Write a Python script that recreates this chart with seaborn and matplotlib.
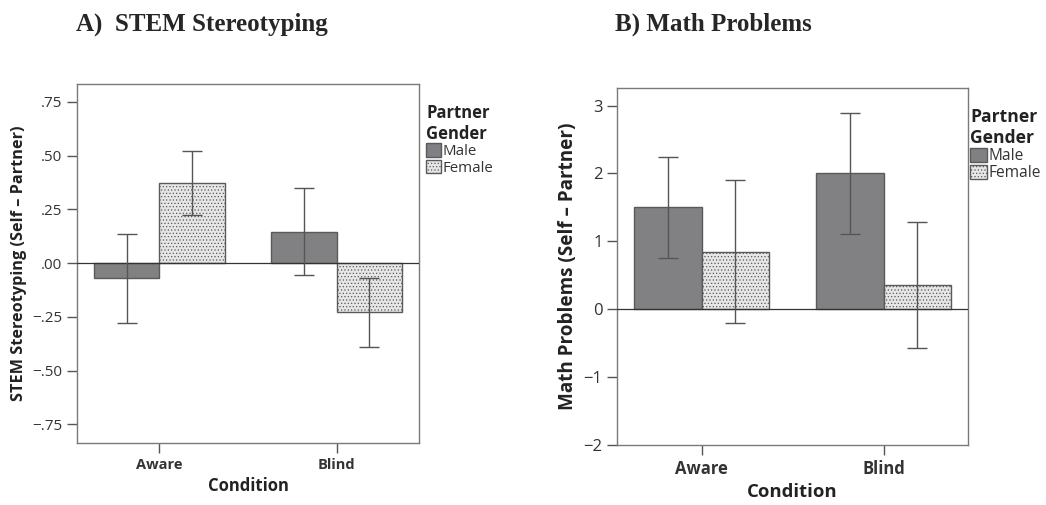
import pandas as pd
import numpy as np
import matplotlib
matplotlib.use('Agg')
import matplotlib.pyplot as plt
import seaborn as sns
from matplotlib.patches import Patch

# データ
conditions = ['Aware', 'Blind']
genders = ['Male', 'Female']

stem_mean = {'Male': [-0.07, 0.146], 'Female': [0.375, -0.228]}
stem_low = {'Male': [-0.276, -0.054], 'Female': [0.226, -0.388]}
stem_high = {'Male': [0.136, 0.349], 'Female': [0.524, -0.068]}

math_mean = {'Male': [1.51, 2.0], 'Female': [0.845, 0.358]}
math_low = {'Male': [0.76, 1.115], 'Female': [-0.206, -0.565]}
math_high = {'Male': [2.25, 2.89], 'Female': [1.90, 1.29]}

stem_ticks = [0.75, 0.5, 0.25, 0.0, -0.25, -0.5, -0.75]
stem_ticklabels = ['.75', '.50', '.25', '.00', '\u2212.25', '\u2212.50', '\u2212.75']
math_ticks = [3, 2, 1, 0, -1, -2]
math_ticklabels = ['3', '2', '1', '0', '\u22121', '\u22122']


def make_df(mean, low, high):
    rows = []
    for g in genders:
        for i, c in enumerate(conditions):
            rows.append({'Condition': c, 'Gender': g, 'value': mean[g][i],
                         'low': low[g][i], 'high': high[g][i]})
    return pd.DataFrame(rows)


sns.set_style('white')
plt.rcParams['font.family'] = ['Open Sans', 'DejaVu Sans']
plt.rcParams['hatch.linewidth'] = 0.5

fig = plt.figure(figsize=(10.46, 5.05), dpi=100)
ax1 = fig.add_axes([0.0736, 0.1228, 0.327, 0.711])
ax2 = fig.add_axes([0.590, 0.1188, 0.3356, 0.707])

male_col = '#808084'
female_col = '#e6e6e6'
edge_col = '#5a5a5a'


def draw(ax, df, ylim, ticks, ticklabels, ylabel, s):
    sns.barplot(data=df, x='Condition', y='value', hue='Gender',
                order=conditions, hue_order=genders,
                palette={'Male': male_col, 'Female': female_col},
                errorbar=None, width=0.74, ax=ax, legend=False,
                edgecolor=edge_col, linewidth=1.0)
    # バーの位置からエラーバーを描く
    n = len(conditions)
    for j, g in enumerate(genders):
        patches = ax.patches[j * n:(j + 1) * n]
        sub = df[df['Gender'] == g].set_index('Condition').loc[conditions]
        xs = [p.get_x() + p.get_width() / 2 for p in patches]
        y = sub['value'].values
        yerr = np.vstack([y - sub['low'].values, sub['high'].values - y])
        ax.errorbar(xs, y, yerr=yerr, fmt='none', ecolor='#555555',
                    elinewidth=1.0, capsize=7.5, capthick=1.0, zorder=5)
        if g == 'Female':
            for p in patches:
                p.set_hatch('.....')
    ax.axhline(0, color='#333333', lw=0.9, zorder=4)
    ax.set_xlim(-0.465, 1.465)
    ax.set_ylim(*ylim)
    ax.set_yticks(ticks)
    ax.set_yticklabels(ticklabels)
    ax.set_ylabel(ylabel, fontsize=s['ylab'], fontweight='bold', color='#222222')
    ax.set_xlabel('Condition', fontsize=s['xlab'], fontweight='bold', color='#222222')
    ax.tick_params(axis='both', direction='out', length=7, width=1,
                   color='#555555', labelcolor='#333333',
                   left=True, bottom=True)
    ax.tick_params(axis='y', labelsize=s['ytick'])
    ax.tick_params(axis='x', labelsize=s['xtick'])
    for lab in ax.get_xticklabels():
        lab.set_fontweight('bold')
    for sp in ax.spines.values():
        sp.set_visible(True)
        sp.set_color('#7a7a7a')
        sp.set_linewidth(1.0)
    # 凡例
    handles = [Patch(facecolor=male_col, edgecolor=edge_col, label='Male'),
               Patch(facecolor=female_col, edgecolor=edge_col, hatch='.....', label='Female')]
    leg = ax.legend(handles=handles, title='Partner\nGender', loc='upper left',
                    bbox_to_anchor=(s['lx'], 0.97), frameon=False,
                    handlelength=s['hl'], handleheight=s['hl'], handletextpad=0.1,
                    labelspacing=0.05, borderaxespad=0.2, fontsize=s['leg'],
                    alignment='left')
    leg.get_title().set_fontweight('bold')
    leg.get_title().set_fontsize(s['legt'])
    leg.get_title().set_color('#222222')
    for t in leg.get_texts():
        t.set_color('#333333')


draw(ax1, make_df(stem_mean, stem_low, stem_high), (-0.836, 0.834),
     stem_ticks, stem_ticklabels, 'STEM Stereotyping (Self \u2013 Partner)',
     {'ylab': 11.7, 'xlab': 12, 'ytick': 11, 'xtick': 10.5, 'leg': 10.8, 'legt': 12,
      'hl': 1.0, 'lx': 0.995})
draw(ax2, make_df(math_mean, math_low, math_high), (-2.0, 3.26),
     math_ticks, math_ticklabels, 'Math Problems (Self \u2013 Partner)',
     {'ylab': 13.6, 'xlab': 13.3, 'ytick': 12, 'xtick': 12, 'leg': 11.2, 'legt': 12.6,
      'hl': 1.05, 'lx': 0.98})

fig.text(0.073, 0.952, 'A)  STEM Stereotyping', fontsize=18, fontweight='bold',
         family='Liberation Serif', va='center')
fig.text(0.588, 0.952, 'B) Math Problems', fontsize=18, fontweight='bold',
         family='Liberation Serif', va='center')

fig.savefig('out.png', dpi=100)
